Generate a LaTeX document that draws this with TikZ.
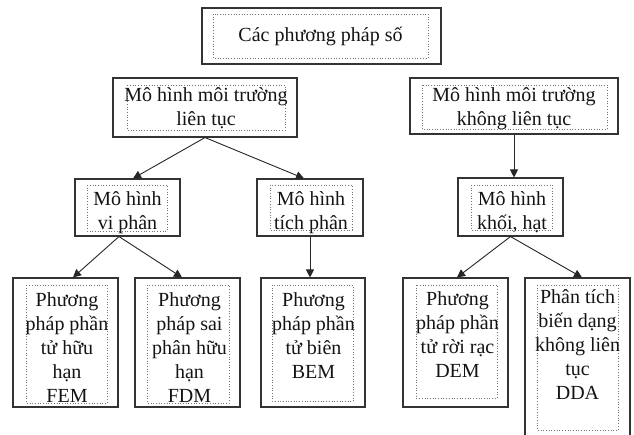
\documentclass[tikz,border=0pt]{standalone}
\usepackage{fontspec}
\setmainfont{Liberation Serif}
\usetikzlibrary{arrows.meta,calc}
\tikzset{
  outerbox/.style={draw=black!80, line width=1.1pt, rectangle, inner sep=0pt, fill=none},
  innerbox/.style={draw=black!55, line width=0.7pt, dotted},
  txt/.style={inner sep=0pt, align=center, text=black!92, font=\fontsize{20}{24}\selectfont},
  conn/.style={draw=black!85, line width=0.9pt, -{Triangle[length=8pt,width=8pt]}}
}
\begin{document}
\begin{tikzpicture}[x=1pt,y=-1pt]
\useasboundingbox (0,0) rectangle (634,435);
\fill[white] (0,0) rectangle (634,435);
\clip (0,0) rectangle (634,435);
% outer boxes
\node[outerbox, minimum width=239pt, minimum height=56pt] (top) at (321.5,36) {};
\node[outerbox, minimum width=184pt, minimum height=59pt] (lt) at (205,107.5) {};
\node[outerbox, minimum width=208pt, minimum height=56pt] (klt) at (514,106) {};
\node[outerbox, minimum width=105pt, minimum height=57pt] (vp) at (127.5,207.5) {};
\node[outerbox, minimum width=106pt, minimum height=57pt] (tp) at (310,207.5) {};
\node[outerbox, minimum width=105pt, minimum height=58pt] (kh) at (510.5,207) {};
\node[outerbox, minimum width=105pt, minimum height=129pt] (fem) at (65.5,342.5) {};
\node[outerbox, minimum width=105pt, minimum height=129pt] (fdm) at (187.5,342.5) {};
\node[outerbox, minimum width=104pt, minimum height=129pt] (bem) at (313,342.5) {};
\node[outerbox, minimum width=105pt, minimum height=129pt] (dem) at (455.5,342.5) {};
\node[outerbox, minimum width=105pt, minimum height=172pt] (dda) at (577.5,364) {};
% inner dotted frames
\draw[innerbox] (213,14) rectangle (428,58);
\draw[innerbox] (127,85) rectangle (285,130);
\draw[innerbox] (422,85) rectangle (607,129);
\draw[innerbox] (87,185) rectangle (167,231);
\draw[innerbox] (270,185) rectangle (352,230);
\draw[innerbox] (471,185) rectangle (552,230);
\draw[innerbox] (26,285) rectangle (107,403);
\draw[innerbox] (147,285) rectangle (229,403);
\draw[innerbox] (272,285) rectangle (353,401);
\draw[innerbox] (416,285) rectangle (497,398);
\draw[innerbox] (537,285) rectangle (618,430);
% texts
\node[txt, anchor=base] (ttop) at (320.5,42) {Các phương pháp số};
\node[txt, anchor=north] (tlt) at (206,85) {\strut Mô hình môi trường\\liên tục};
\node[txt, anchor=north] (tklt) at (514,85) {\strut Mô hình môi trường\\không liên tục};
\node[txt, anchor=north] (tvp) at (127.5,188.5) {\strut Mô hình\\vi phân};
\node[txt, anchor=north] (ttp) at (311,188.5) {\strut Mô hình\\tích phân};
\node[txt, anchor=north] (tkh) at (512,188.5) {\strut Mô hình\\khối, hạt};
\node[txt, anchor=north] (tfem) at (67,289) {\strut Phương\\pháp phần\\tử hữu\\hạn\\FEM};
\node[txt, anchor=north] (tfdm) at (189.5,289) {\strut Phương\\pháp sai\\phân hữu\\hạn\\FDM};
\node[txt, anchor=north] (tbem) at (313.5,289) {\strut Phương\\pháp phần\\tử biên\\BEM};
\node[txt, anchor=north] (tdem) at (457.5,288.5) {\strut Phương\\pháp phần\\tử rời rạc\\DEM};
\node[txt, anchor=north] (tdda) at (577.5,286) {\strut Phân tích\\biến dạng\\không liên\\tục\\DDA};
% connectors
\draw[conn] (lt.south) -- ($(vp.north)+(5.5,0)$);
\draw[conn] (lt.south) -- ($(tp.north)+(-6,0)$);
\draw[conn] (klt.south) -- (kh.north -| klt.south);
\draw[conn] ($(vp.south)+(-8.5,0)$) -- ($(fem.north)+(7.5,0)$);
\draw[conn] ($(vp.south)+(-8.5,0)$) -- ($(fdm.north)+(-5.5,0)$);
\draw[conn] (tp.south) -- (tp.south |- bem.north);
\draw[conn] (kh.south) -- ($(dem.north)+(1.5,0)$);
\draw[conn] (kh.south) -- ($(dda.north)+(4.5,0)$);
\end{tikzpicture}
\end{document}
